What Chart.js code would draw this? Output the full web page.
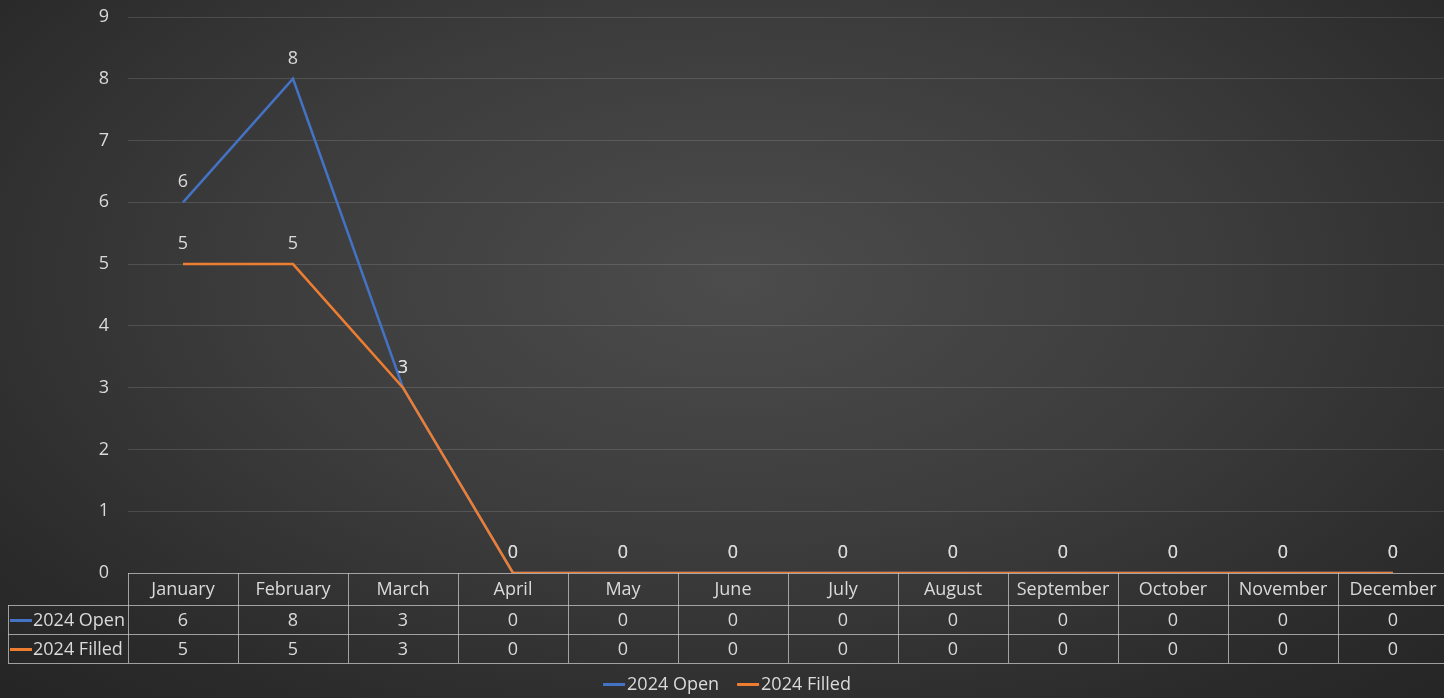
<!DOCTYPE html>
<html>
<head>
<meta charset="utf-8">
<title>2024 Open vs Filled</title>
<script src="https://cdn.jsdelivr.net/npm/chart.js@4/dist/chart.umd.min.js"></script>
<style>
  html, body { margin: 0; padding: 0; overflow: hidden; width: 1444px; height: 698px; }
  body { background: radial-gradient(ellipse 75% 85% at 51% 40%, #4c4c4c 0%, #3c3c3c 45%, #2b2b2b 80%, #242424 100%); }
  #wrap { position: relative; width: 1448px; height: 698px; }
</style>
</head>
<body>
<div id="wrap"><canvas id="c"></canvas></div>
<script>
// Monthly counts for 2024
const months = ['January', 'February', 'March', 'April', 'May', 'June', 'July',
                'August', 'September', 'October', 'November', 'December'];
const open2024 = [6, 8, 3, 0, 0, 0, 0, 0, 0, 0, 0, 0];
const filled2024 = [5, 5, 3, 0, 0, 0, 0, 0, 0, 0, 0, 0];
const yTicks = [0, 1, 2, 3, 4, 5, 6, 7, 8, 9];

const TEXT = '#dadada';
const FONT = '"Open Sans", "Noto Sans", sans-serif';
const FONT_SIZE = 18;
const BORDER = 'rgba(200,200,200,0.75)';

// Value labels above each point
const valueLabels = {
  id: 'valueLabels',
  afterDatasetsDraw(chart) {
    const ctx = chart.ctx;
    ctx.save();
    ctx.font = FONT_SIZE + 'px ' + FONT;
    ctx.fillStyle = TEXT;
    ctx.textAlign = 'center';
    ctx.textBaseline = 'middle';
    chart.data.datasets.forEach((ds, i) => {
      const meta = chart.getDatasetMeta(i);
      meta.data.forEach((pt, j) => {
        ctx.fillText(String(ds.data[j]), pt.x, pt.y - 20);
      });
    });
    ctx.restore();
  }
};

// Data table under the plot plus a legend row
const dataTable = {
  id: 'dataTable',
  afterDraw(chart) {
    const ctx = chart.ctx;
    const x = chart.scales.x;
    const area = chart.chartArea;
    const n = chart.data.labels.length;
    const band = n > 1 ? x.getPixelForValue(1) - x.getPixelForValue(0) : area.right - area.left;
    const top = area.bottom;
    const rowH = [32, 29, 29];
    const y1 = top + rowH[0];
    const y2 = y1 + rowH[1];
    const y3 = y2 + rowH[2];
    const nameLeft = 8;

    ctx.save();
    ctx.strokeStyle = BORDER;
    ctx.lineWidth = 1;
    ctx.beginPath();
    // horizontal rules
    ctx.moveTo(area.left, top + 0.5); ctx.lineTo(area.right, top + 0.5);
    [y1, y2, y3].forEach(y => { ctx.moveTo(nameLeft, y + 0.5); ctx.lineTo(area.right, y + 0.5); });
    // vertical rules
    ctx.moveTo(nameLeft + 0.5, y1); ctx.lineTo(nameLeft + 0.5, y3);
    for (let i = 0; i <= n; i++) {
      const vx = Math.round(x.getPixelForValue(0) - band / 2 + i * band) + 0.5;
      ctx.moveTo(vx, top); ctx.lineTo(vx, y3);
    }
    ctx.stroke();

    ctx.font = FONT_SIZE + 'px ' + FONT;
    ctx.fillStyle = TEXT;
    ctx.textAlign = 'center';
    ctx.textBaseline = 'middle';
    chart.data.labels.forEach((lab, i) => {
      const cx = x.getPixelForValue(i);
      ctx.fillText(lab, cx, (top + y1) / 2 + 1);
      chart.data.datasets.forEach((ds, d) => {
        const cy = d === 0 ? (y1 + y2) / 2 + 1 : (y2 + y3) / 2 + 1;
        ctx.fillText(String(ds.data[i]), cx, cy);
      });
    });

    // series names with colour keys
    ctx.textAlign = 'left';
    chart.data.datasets.forEach((ds, d) => {
      const cy = d === 0 ? (y1 + y2) / 2 : (y2 + y3) / 2;
      ctx.fillStyle = ds.borderColor;
      ctx.fillRect(10, Math.round(cy) - 1, 22, 3);
      ctx.fillStyle = TEXT;
      ctx.fillText(ds.label, 33, cy + 1);
    });

    // legend
    const ly = 684;
    const keyW = 22, gapTxt = 2, gapItem = 18;
    const widths = chart.data.datasets.map(ds => keyW + gapTxt + ctx.measureText(ds.label).width);
    const total = widths.reduce((a, b) => a + b, 0) + gapItem * (widths.length - 1);
    let lx = 727 - total / 2;
    chart.data.datasets.forEach((ds, d) => {
      ctx.fillStyle = ds.borderColor;
      ctx.fillRect(lx, ly - 1, keyW, 3);
      ctx.fillStyle = TEXT;
      ctx.fillText(ds.label, lx + keyW + gapTxt, ly + 1);
      lx += widths[d] + gapItem;
    });
    ctx.restore();
  }
};

new Chart(document.getElementById('c'), {
  type: 'line',
  data: {
    labels: months,
    datasets: [
      // the later series is painted over the earlier one
      { label: '2024 Open', data: open2024, borderColor: '#4472c4', backgroundColor: '#4472c4',
        borderWidth: 2.5, pointRadius: 0, tension: 0, order: 2 },
      { label: '2024 Filled', data: filled2024, borderColor: '#ed7d31', backgroundColor: '#ed7d31',
        borderWidth: 2.5, pointRadius: 0, tension: 0, order: 1 }
    ]
  },
  options: {
    responsive: true,
    maintainAspectRatio: false,
    animation: false,
    layout: { padding: { top: 17, bottom: 125, left: 0, right: 0 } },
    plugins: { legend: { display: false }, tooltip: { enabled: false } },
    scales: {
      x: { display: false, offset: true },
      y: {
        min: yTicks[0], max: yTicks[yTicks.length - 1],
        afterBuildTicks(scale) { scale.ticks = yTicks.map(v => ({ value: v })); },
        afterFit(scale) { scale.width = 128; scale.paddingTop = 0; scale.paddingBottom = 0; },
        ticks: { color: TEXT, font: { family: FONT, size: FONT_SIZE }, padding: 19 },
        grid: { color: 'rgba(255,255,255,0.13)', drawTicks: false,
                lineWidth: ctx => (ctx.tick && ctx.tick.value === 0 ? 0 : 1) },
        border: { display: false }
      }
    }
  },
  plugins: [valueLabels, dataTable]
});
</script>
</body>
</html>
